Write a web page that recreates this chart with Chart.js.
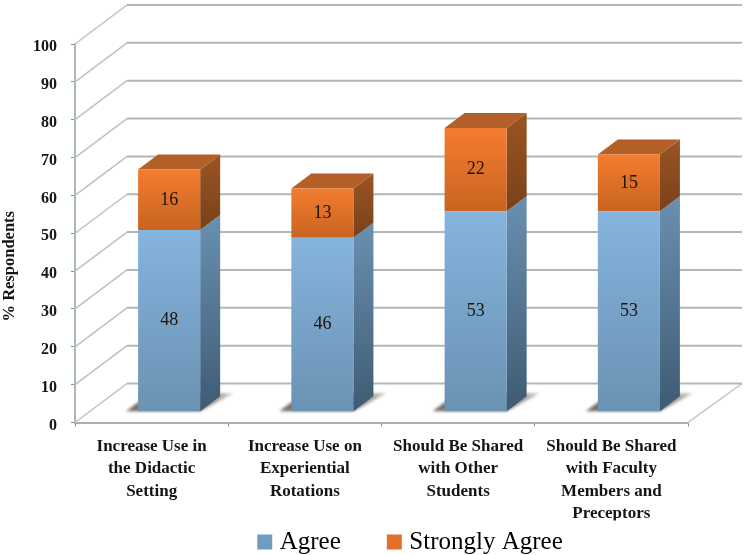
<!DOCTYPE html>
<html>
<head>
<meta charset="utf-8">
<script src="https://cdn.jsdelivr.net/npm/chart.js@4"></script>
<style>
  body { margin: 0; background: #fff; }
  canvas { display: block; }
</style>
</head>
<body>
<canvas id="mainChart" width="748" height="555"></canvas>
<script>
const main = document.getElementById("mainChart");

const categories = [
    ["Increase Use in", "the Didactic", "Setting"],
    ["Increase Use on", "Experiential", "Rotations"],
    ["Should Be Shared", "with Other", "Students"],
    ["Should Be Shared", "with Faculty", "Members and", "Preceptors"]
];
const agree = [48, 46, 53, 53];
const stronglyAgree = [16, 13, 22, 15];
const serif = "'Liberation Serif', serif";

// depth of the back wall, and how far the bars stand in front of it
const wallX = 52, wallY = 39;
const barShiftX = 17.5, barShiftY = 10.7;
const depthX = 20, depthY = 15;

function frontFill(c, from, to, stops) {
    const y = c.chart.scales.y;
    const g = c.chart.ctx.createLinearGradient(0, y.getPixelForValue(to), 0, y.getPixelForValue(from));
    g.addColorStop(0, stops[0]);
    g.addColorStop(1, stops[1]);
    return g;
}

function poly(ctx, pts, fill) {
    ctx.beginPath();
    pts.forEach((p, i) => i ? ctx.lineTo(p[0], p[1]) : ctx.moveTo(p[0], p[1]));
    ctx.closePath();
    ctx.fillStyle = fill;
    ctx.fill();
}

function vGrad(ctx, y0, y1, a, b) {
    const g = ctx.createLinearGradient(0, y0, 0, y1);
    g.addColorStop(0, a);
    g.addColorStop(1, b);
    return g;
}

const walls = {
    id: "walls",
    beforeDatasetsDraw(chart) {
        const { ctx, scales: { x, y } } = chart;
        const left = x.left, right = x.right, floor = y.bottom;
        ctx.save();
        y.ticks.forEach(t => {
            const py = y.getPixelForValue(t.value);
            ctx.strokeStyle = "#bcc2c2";
            ctx.lineWidth = 1.5;
            ctx.beginPath();
            ctx.moveTo(left, py);
            ctx.lineTo(left + wallX, py - wallY);
            ctx.stroke();
            ctx.strokeStyle = "#aeb7ba";
            ctx.lineWidth = 2;
            ctx.beginPath();
            ctx.moveTo(left + wallX, py - wallY);
            ctx.lineTo(right + wallX + 2, py - wallY);
            ctx.stroke();
        });
        ctx.strokeStyle = "#bcc2c2";
        ctx.lineWidth = 1.5;
        ctx.beginPath();
        ctx.moveTo(right, floor);
        ctx.lineTo(right + wallX + 2, floor - wallY);
        ctx.stroke();
        ctx.restore();
    }
};

const bars3d = {
    id: "bars3d",
    beforeDatasetsDraw(chart) {
        const { ctx } = chart;
        const low = chart.getDatasetMeta(0).data;
        const high = chart.getDatasetMeta(1).data;
        // floor shadows
        ctx.save();
        ctx.filter = "blur(1.5px)";
        low.forEach(b => {
            const l = b.x - b.width / 2 + barShiftX, r = b.x + b.width / 2 + barShiftX, f = b.base - barShiftY;
            const g = ctx.createLinearGradient(r, f, r + 33, f - 18);
            g.addColorStop(0, "#7a6e66");
            g.addColorStop(1, "#cfc9c3");
            poly(ctx, [[l - 12, f], [r, f], [r + 33, f - 18], [r, f - 18], [l, f - 9]], g);
        });
        ctx.restore();
        ctx.save();
        ctx.translate(barShiftX, -barShiftY);
        low.forEach((b, i) => {
            const r = b.x + b.width / 2, l = b.x - b.width / 2;
            const t = high[i];
            poly(ctx, [[r, b.base], [r + depthX, b.base - depthY], [r + depthX, b.y - depthY], [r, b.y]],
                vGrad(ctx, b.y - depthY, b.base, "#6a90b0", "#3f5b73"));
            poly(ctx, [[r, b.y], [r + depthX, b.y - depthY], [r + depthX, t.y - depthY], [r, t.y]],
                vGrad(ctx, t.y - depthY, b.y, "#9a5524", "#7a411a"));
            poly(ctx, [[l, t.y], [l + depthX, t.y - depthY], [r + depthX, t.y - depthY], [r, t.y]], "#b45f27");
        });
        // front faces come from the library, same shift
    }
};

const barShiftEnd = {
    id: "barShiftEnd",
    afterDatasetsDraw(chart) {
        const { ctx } = chart;
        chart.data.datasets.forEach((ds, d) => {
            chart.getDatasetMeta(d).data.forEach((b, i) => {
                const c = b.getCenterPoint();
                ctx.fillStyle = "#1c1408";
                ctx.font = "18px " + serif;
                ctx.textAlign = "center";
                ctx.textBaseline = "middle";
                ctx.fillText(ds.data[i], c.x, c.y);
            });
        });
        ctx.restore();
    }
};

const placeLegend = {
    id: "placeLegend",
    afterLayout(chart) {
        const lg = chart.legend;
        lg.left += 68.5;
        lg.right += 68.5;
        lg.top = 478.5;
        lg.bottom = lg.top + lg.height;
        lg.adjustHitBoxes();
    }
};

new Chart(main, {
    type: "bar",
    data: {
        labels: categories,
        datasets: [{
            label: "Agree",
            data: agree,
            backgroundColor: c => c.chart.chartArea ? frontFill(c, 0, agree[c.dataIndex], ["#85b4de", "#6a92b3"]) : "#7aa5cc"
        }, {
            label: "Strongly Agree",
            data: stronglyAgree,
            backgroundColor: c => c.chart.chartArea ? frontFill(c, agree[c.dataIndex], agree[c.dataIndex] + stronglyAgree[c.dataIndex], ["#f47c30", "#c8641f"]) : "#e87428"
        }]
    },
    plugins: [walls, bars3d, barShiftEnd, placeLegend],
    options: {
        responsive: false,
        animation: false,
        categoryPercentage: 0.405,
        barPercentage: 1,
        layout: { padding: { top: 44, right: 60, left: 0, bottom: -51.5 } },
        plugins: {
            tooltip: { enabled: false },
            legend: {
                position: "bottom",
                labels: {
                    color: "#2a2a2a",
                    font: { family: serif, size: 25 },
                    // small box with a thick border, keeps the swatch close to its text
                    boxWidth: 5,
                    boxHeight: 5,
                    padding: 51,
                    generateLabels(chart) {
                        const sw = ["#719cc0", "#e2702a"];
                        return chart.data.datasets.map((ds, i) => ({
                            text: ds.label,
                            fillStyle: sw[i],
                            strokeStyle: sw[i],
                            lineWidth: 10,
                            datasetIndex: i
                        }));
                    }
                }
            }
        },
        scales: {
            x: {
                stacked: true,
                afterFit(s) { s.height = 98; },
                grid: { drawOnChartArea: false, tickLength: 4, color: "#8b8f90" },
                border: { color: "#a9b0b2", width: 2 },
                ticks: {
                    autoSkip: false,
                    maxRotation: 0,
                    minRotation: 0,
                    padding: 9,
                    color: "#151515",
                    font: { family: serif, size: 17, weight: "bold", lineHeight: 1.31 }
                }
            },
            y: {
                stacked: true,
                min: 0,
                max: 100,
                afterFit(s) { s.width = 75; },
                grid: { drawOnChartArea: false, tickLength: 4, color: "#8b8f90" },
                border: { color: "#a9b8c0", width: 2 },
                title: {
                    display: true,
                    // trailing spaces push the rotated title down from the axis centre
                    text: "% Respondents" + "\u00a0".repeat(16),
                    color: "#151515",
                    font: { family: serif, size: 16.5, weight: "bold" },
                    padding: { top: 0, bottom: 0 }
                },
                ticks: {
                    stepSize: 10,
                    padding: 14,
                    labelOffset: 3,
                    color: "#151515",
                    font: { family: serif, size: 16, weight: "bold" }
                }
            }
        }
    }
});
</script>
</body>
</html>
